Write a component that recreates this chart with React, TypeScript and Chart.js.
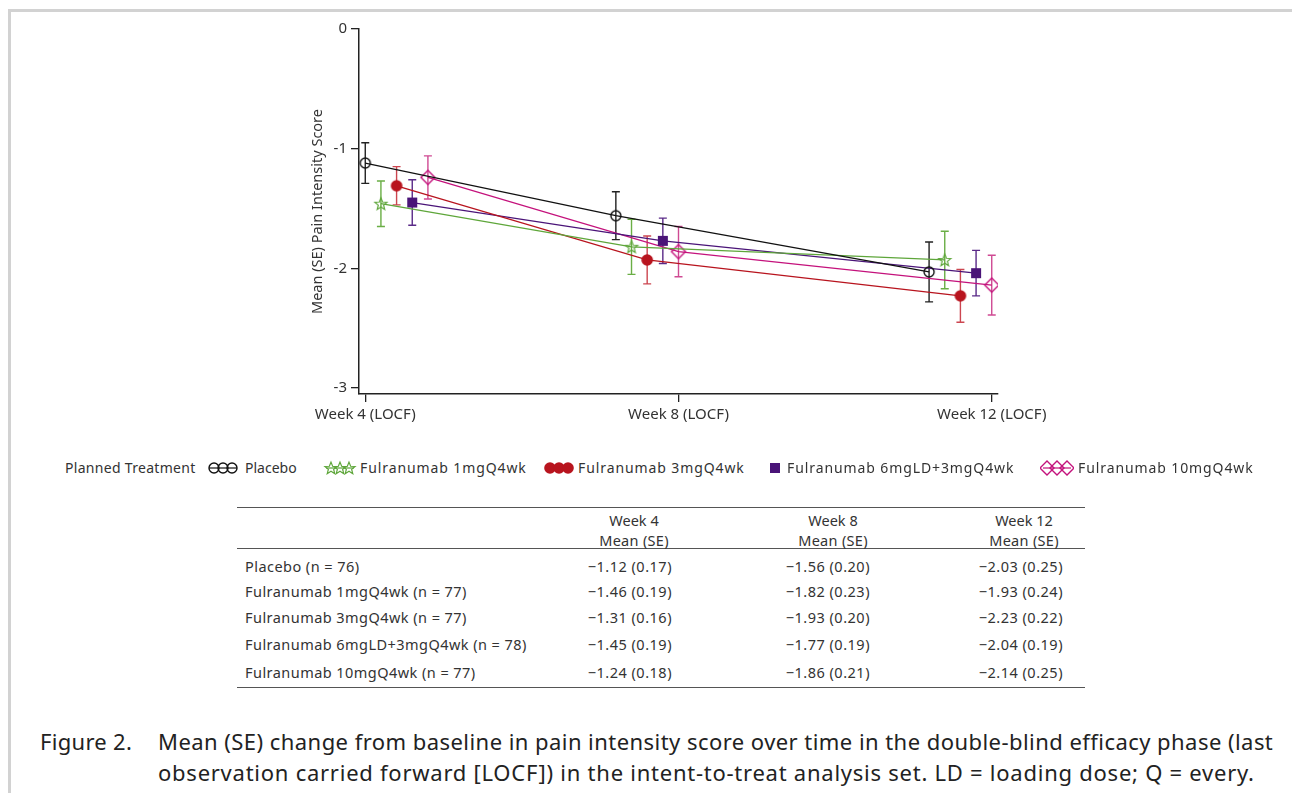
import React, { useEffect, useRef } from "react";
import { Chart, registerables } from "chart.js";
Chart.register(...registerables);

// ---------------- data ----------------
const visitLabels = ["Week 4 (LOCF)", "Week 8 (LOCF)", "Week 12 (LOCF)"];
const visitWeeks = [4, 8, 12];
const tableVisits = ["Week 4", "Week 8", "Week 12"];
const groupNames = ["Placebo", "Fulranumab 1mgQ4wk", "Fulranumab 3mgQ4wk", "Fulranumab 6mgLD+3mgQ4wk", "Fulranumab 10mgQ4wk"];
const groupN = [76, 77, 77, 78, 77];
const placeboMean = [-1.12, -1.56, -2.03];
const placeboSE = [0.17, 0.2, 0.25];
const f1Mean = [-1.46, -1.82, -1.93];
const f1SE = [0.19, 0.23, 0.24];
const f3Mean = [-1.31, -1.93, -2.23];
const f3SE = [0.16, 0.2, 0.22];
const f6Mean = [-1.45, -1.77, -2.04];
const f6SE = [0.19, 0.19, 0.19];
const f10Mean = [-1.24, -1.86, -2.14];
const f10SE = [0.18, 0.21, 0.25];
const yTicks = [0, -1, -2, -3];
const yTitle = "Mean (SE) Pain Intensity Score";
const legendTitle = "Planned Treatment";
const captionLabel = "Figure 2.";
const captionLines = [
  "Mean (SE) change from baseline in pain intensity score over time in the double-blind efficacy phase (last",
  "observation carried forward [LOCF]) in the intent-to-treat analysis set. LD = loading dose; Q = every.",
];

const means = [placeboMean, f1Mean, f3Mean, f6Mean, f10Mean];
const ses = [placeboSE, f1SE, f3SE, f6SE, f10SE];

// ---------------- style ----------------
const FONT = "'Noto Sans', 'Open Sans', sans-serif";
const lineColors = ["#111111", "#5ea63a", "#b8141e", "#4a1478", "#c4127c"];
const errColors = ["#222222", "#6aae45", "#cc4650", "#5a2a88", "#cf4a93"];
const markerKinds = ["circleOpen", "star", "circleFilled", "square", "diamond"];
// dodge (weeks) of the first group at each visit, and spacing between groups
const clusterStart = [0, -0.8, -0.8];
const groupStep = 0.2;

function drawMarker(ctx: CanvasRenderingContext2D, kind: string, x: number, y: number, color: string) {
  ctx.save();
  ctx.strokeStyle = color;
  ctx.fillStyle = color;
  ctx.lineWidth = 1.4;
  ctx.beginPath();
  if (kind === "circleOpen") {
    ctx.arc(x, y, 5, 0, Math.PI * 2);
    ctx.stroke();
  } else if (kind === "circleFilled") {
    ctx.arc(x, y, 5.8, 0, Math.PI * 2);
    ctx.fill();
  } else if (kind === "square") {
    ctx.rect(x - 5, y - 5, 10, 10);
    ctx.fill();
  } else if (kind === "diamond") {
    ctx.moveTo(x, y - 7);
    ctx.lineTo(x + 7, y);
    ctx.lineTo(x, y + 7);
    ctx.lineTo(x - 7, y);
    ctx.closePath();
    ctx.stroke();
  } else if (kind === "star") {
    const ro = 6.4, ri = 2.8;
    for (let i = 0; i < 10; i++) {
      const r = i % 2 === 0 ? ro : ri;
      const a = -Math.PI / 2 + (i * Math.PI) / 5;
      const px = x + r * Math.cos(a), py = y + 0.5 + r * Math.sin(a);
      if (i === 0) ctx.moveTo(px, py); else ctx.lineTo(px, py);
    }
    ctx.closePath();
    ctx.lineWidth = 1.2;
    ctx.stroke();
  }
  ctx.restore();
}

function markerImage(kind: string, color: string) {
  const c = document.createElement("canvas");
  c.width = 18;
  c.height = 18;
  const ctx = c.getContext("2d")!;
  drawMarker(ctx, kind, 9, 9, color);
  return c;
}

const errorBarPlugin = {
  id: "errorBars",
  beforeDatasetsDraw(chart: any) {
    const ctx = chart.ctx;
    const xs = chart.scales.x, ys = chart.scales.y;
    ctx.save();
    ctx.lineWidth = 1.4;
    means.forEach((m, g) => {
      ctx.strokeStyle = errColors[g];
      m.forEach((v, i) => {
        const px = xs.getPixelForValue(visitWeeks[i] + clusterStart[i] + g * groupStep);
        const top = ys.getPixelForValue(v + ses[g][i]);
        const bot = ys.getPixelForValue(v - ses[g][i]);
        ctx.beginPath();
        ctx.moveTo(px, top);
        ctx.lineTo(px, bot);
        ctx.moveTo(px - 4, top);
        ctx.lineTo(px + 4, top);
        ctx.moveTo(px - 4, bot);
        ctx.lineTo(px + 4, bot);
        ctx.stroke();
      });
    });
    ctx.restore();
  },
};

function LegendIcon({ kind, color }: { kind: string; color: string }) {
  const ref = useRef<HTMLCanvasElement>(null);
  useEffect(() => {
    const c = ref.current!;
    const ctx = c.getContext("2d")!;
    ctx.clearRect(0, 0, c.width, c.height);
    if (kind === "square") {
      drawMarker(ctx, kind, 16, 10, color);
      return;
    }
    ctx.strokeStyle = color;
    ctx.lineWidth = 1.2;
    ctx.beginPath();
    ctx.moveTo(3, 10);
    ctx.lineTo(31, 10);
    ctx.stroke();
    const step = kind === "diamond" ? 10 : 9;
    [-step, 0, step].forEach((d) => drawMarker(ctx, kind, 17 + d, 10, color));
  }, [kind, color]);
  return <canvas ref={ref} width={34} height={20} style={{ display: "block" }} />;
}

const fmt = (m: number, s: number) => `\u2212${Math.abs(m).toFixed(2)} (${s.toFixed(2)})`;

export default function App() {
  const canvasRef = useRef<HTMLCanvasElement>(null);

  useEffect(() => {
    const datasets = groupNames.map((name, g) => ({
      label: name,
      data: means[g].map((v, i) => ({ x: visitWeeks[i] + clusterStart[i] + g * groupStep, y: v })),
      showLine: true,
      borderColor: lineColors[g],
      borderWidth: 1.3,
      pointStyle: markerImage(markerKinds[g], lineColors[g]),
      pointRadius: 5,
      pointHoverRadius: 5,
      tension: 0,
    }));
    const chart = new Chart(canvasRef.current!, {
      type: "scatter",
      data: { datasets },
      plugins: [errorBarPlugin],
      options: {
        animation: false,
        responsive: false,
        layout: { padding: { left: 305, top: 29, right: 294, bottom: 6 } },
        plugins: { legend: { display: false }, tooltip: { enabled: false } },
        scales: {
          x: {
            type: "linear",
            min: 3.92,
            max: 12.08,
            afterBuildTicks: (s: any) => {
              s.ticks = visitWeeks.map((v) => ({ value: v }));
            },
            afterFit: (s: any) => {
              s.height = 40;
            },
            ticks: {
              autoSkip: false,
              maxRotation: 0,
              padding: 4,
              color: "#333",
              font: { family: FONT, size: 15 },
              callback: (v: any) => visitLabels[visitWeeks.indexOf(Number(v))] ?? "",
            },
            grid: { drawOnChartArea: false, drawTicks: true, tickLength: 8, color: "#222", lineWidth: 1.3 },
            border: { display: true, color: "#222", width: 1.5 },
          },
          y: {
            type: "linear",
            min: -3.05,
            max: 0,
            afterBuildTicks: (s: any) => {
              s.ticks = yTicks.map((v) => ({ value: v }));
            },
            afterFit: (s: any) => {
              s.width = 54;
            },
            ticks: {
              padding: 4,
              color: "#333",
              font: { family: FONT, size: 15 },
              callback: (v: any) => String(v),
            },
            title: {
              display: true,
              text: yTitle,
              color: "#333",
              font: { family: FONT, size: 14.5 },
            },
            grid: { drawOnChartArea: false, drawTicks: true, tickLength: 8, color: "#222", lineWidth: 1.3 },
            border: { display: true, color: "#222", width: 1.5 },
          },
        },
      },
    } as any);
    return () => chart.destroy();
  }, []);

  const legendItems = [
    { iconX: 206, textX: 245 },
    { iconX: 323, textX: 360 },
    { iconX: 542, textX: 578 },
    { iconX: 759, textX: 787 },
    { iconX: 1040, textX: 1078 },
  ];
  const colCenters = [634, 833, 1024];
  const colRights = [672, 870, 1063];
  const rowY = [566, 591, 617, 644, 672];

  const txt = (x: number, cy: number, s: string, size: number, extra: any = {}) => (
    <div
      style={{
        position: "absolute",
        left: x,
        top: cy - 12,
        height: 24,
        lineHeight: "24px",
        fontSize: size,
        fontFamily: FONT,
        color: "#333",
        whiteSpace: "nowrap",
        ...extra,
      }}
    >
      {s}
    </div>
  );

  return (
    <div style={{ position: "absolute", left: 0, top: 0, width: 1292, height: 793, background: "#fff", overflow: "hidden" }}>
      <div
        style={{
          position: "absolute",
          left: 8,
          top: 9,
          width: 1300,
          height: 800,
          borderTop: "3px solid #d2d2d2",
          borderLeft: "3px solid #d2d2d2",
        }}
      />
      <canvas ref={canvasRef} width={1292} height={440} style={{ position: "absolute", left: 0, top: 0 }} />

      {/* legend */}
      {txt(65, 468, legendTitle, 14, { letterSpacing: "0.3px" })}
      {groupNames.map((name, g) => (
        <React.Fragment key={name}>
          <div style={{ position: "absolute", left: legendItems[g].iconX, top: 458 }}>
            <LegendIcon kind={markerKinds[g]} color={lineColors[g]} />
          </div>
          {txt(legendItems[g].textX, 468, name, 14, { letterSpacing: g === 0 ? 0 : "0.9px" })}
        </React.Fragment>
      ))}

      {/* table */}
      <div style={{ position: "absolute", left: 237, top: 507, width: 848, borderTop: "1.5px solid #555" }} />
      <div style={{ position: "absolute", left: 237, top: 548, width: 848, borderTop: "1.5px solid #555" }} />
      <div style={{ position: "absolute", left: 237, top: 687, width: 848, borderTop: "1.5px solid #555" }} />
      {tableVisits.map((v, i) => (
        <React.Fragment key={v}>
          {txt(colCenters[i] - 60, 520, v, 14.5, { width: 120, textAlign: "center" })}
          {txt(colCenters[i] - 60, 540, "Mean (SE)", 14.5, { width: 120, textAlign: "center", letterSpacing: "0.3px" })}
        </React.Fragment>
      ))}
      {groupNames.map((name, g) => (
        <React.Fragment key={name + "row"}>
          {txt(245, rowY[g], `${name} (n = ${groupN[g]})`, 14.5, { letterSpacing: "0.45px" })}
          {means[g].map((m, i) => (
            <React.Fragment key={i}>
              {txt(colRights[i] - 150, rowY[g], fmt(m, ses[g][i]), 14.5, { width: 150, textAlign: "right", letterSpacing: "0.5px" })}
            </React.Fragment>
          ))}
        </React.Fragment>
      ))}

      {/* caption */}
      {txt(40, 741, captionLabel, 22, { color: "#222", letterSpacing: "0.3px" })}
      {txt(158, 741, captionLines[0], 22, { color: "#222", letterSpacing: "0.45px" })}
      {txt(158, 772, captionLines[1], 22, { color: "#222", letterSpacing: "0.75px" })}
    </div>
  );
}
